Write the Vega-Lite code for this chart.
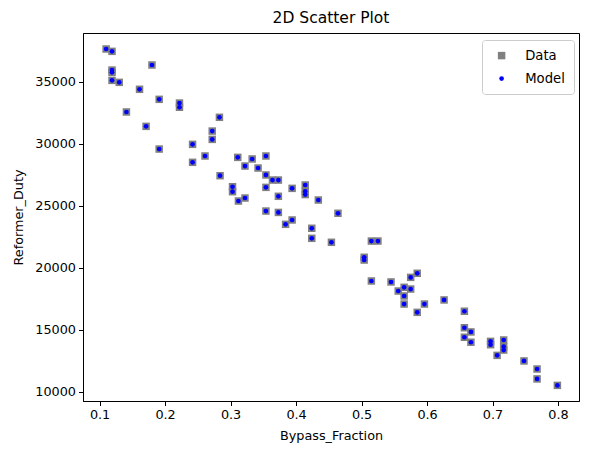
{
  "$schema": "https://vega.github.io/schema/vega-lite/v6.json",
  "autosize": "none",
  "width": 496,
  "height": 368,
  "padding": {"left": 83, "top": 33, "right": 10, "bottom": 54},
  "background": "white",
  "title": {"text": "2D Scatter Plot", "font": "DejaVu Sans", "fontSize": 15.5, "fontWeight": "normal", "color": "black", "offset": 7},
  "data": {
    "values": [
      {"Bypass_Fraction": 0.110, "Data": 37640, "Model": 37640},
      {"Bypass_Fraction": 0.119, "Data": 37450, "Model": 37450},
      {"Bypass_Fraction": 0.119, "Data": 35940, "Model": 35940},
      {"Bypass_Fraction": 0.119, "Data": 35760, "Model": 35760},
      {"Bypass_Fraction": 0.119, "Data": 35110, "Model": 35110},
      {"Bypass_Fraction": 0.130, "Data": 34950, "Model": 34950},
      {"Bypass_Fraction": 0.180, "Data": 36350, "Model": 36350},
      {"Bypass_Fraction": 0.161, "Data": 34390, "Model": 34390},
      {"Bypass_Fraction": 0.191, "Data": 33580, "Model": 33580},
      {"Bypass_Fraction": 0.222, "Data": 33280, "Model": 33280},
      {"Bypass_Fraction": 0.222, "Data": 32940, "Model": 32940},
      {"Bypass_Fraction": 0.141, "Data": 32560, "Model": 32560},
      {"Bypass_Fraction": 0.171, "Data": 31400, "Model": 31400},
      {"Bypass_Fraction": 0.283, "Data": 32130, "Model": 32130},
      {"Bypass_Fraction": 0.272, "Data": 31020, "Model": 31020},
      {"Bypass_Fraction": 0.272, "Data": 30350, "Model": 30350},
      {"Bypass_Fraction": 0.191, "Data": 29570, "Model": 29570},
      {"Bypass_Fraction": 0.242, "Data": 29950, "Model": 29950},
      {"Bypass_Fraction": 0.261, "Data": 29010, "Model": 29010},
      {"Bypass_Fraction": 0.242, "Data": 28500, "Model": 28500},
      {"Bypass_Fraction": 0.311, "Data": 28900, "Model": 28900},
      {"Bypass_Fraction": 0.322, "Data": 28200, "Model": 28200},
      {"Bypass_Fraction": 0.333, "Data": 28770, "Model": 28770},
      {"Bypass_Fraction": 0.354, "Data": 29010, "Model": 29010},
      {"Bypass_Fraction": 0.342, "Data": 28040, "Model": 28040},
      {"Bypass_Fraction": 0.354, "Data": 27480, "Model": 27480},
      {"Bypass_Fraction": 0.364, "Data": 27070, "Model": 27070},
      {"Bypass_Fraction": 0.373, "Data": 27070, "Model": 27070},
      {"Bypass_Fraction": 0.284, "Data": 27420, "Model": 27420},
      {"Bypass_Fraction": 0.303, "Data": 26530, "Model": 26530},
      {"Bypass_Fraction": 0.303, "Data": 26130, "Model": 26130},
      {"Bypass_Fraction": 0.354, "Data": 26480, "Model": 26480},
      {"Bypass_Fraction": 0.394, "Data": 26400, "Model": 26400},
      {"Bypass_Fraction": 0.414, "Data": 26670, "Model": 26670},
      {"Bypass_Fraction": 0.414, "Data": 26150, "Model": 26150},
      {"Bypass_Fraction": 0.414, "Data": 25900, "Model": 25900},
      {"Bypass_Fraction": 0.373, "Data": 25760, "Model": 25760},
      {"Bypass_Fraction": 0.434, "Data": 25460, "Model": 25460},
      {"Bypass_Fraction": 0.312, "Data": 25380, "Model": 25380},
      {"Bypass_Fraction": 0.322, "Data": 25620, "Model": 25620},
      {"Bypass_Fraction": 0.464, "Data": 24390, "Model": 24390},
      {"Bypass_Fraction": 0.354, "Data": 24570, "Model": 24570},
      {"Bypass_Fraction": 0.373, "Data": 24460, "Model": 24460},
      {"Bypass_Fraction": 0.394, "Data": 23850, "Model": 23850},
      {"Bypass_Fraction": 0.384, "Data": 23500, "Model": 23500},
      {"Bypass_Fraction": 0.424, "Data": 23180, "Model": 23180},
      {"Bypass_Fraction": 0.424, "Data": 22370, "Model": 22370},
      {"Bypass_Fraction": 0.454, "Data": 22050, "Model": 22050},
      {"Bypass_Fraction": 0.515, "Data": 22150, "Model": 22150},
      {"Bypass_Fraction": 0.525, "Data": 22150, "Model": 22150},
      {"Bypass_Fraction": 0.504, "Data": 20840, "Model": 20840},
      {"Bypass_Fraction": 0.504, "Data": 20620, "Model": 20620},
      {"Bypass_Fraction": 0.515, "Data": 18930, "Model": 18930},
      {"Bypass_Fraction": 0.545, "Data": 18850, "Model": 18850},
      {"Bypass_Fraction": 0.556, "Data": 18120, "Model": 18120},
      {"Bypass_Fraction": 0.565, "Data": 18420, "Model": 18420},
      {"Bypass_Fraction": 0.575, "Data": 18280, "Model": 18280},
      {"Bypass_Fraction": 0.575, "Data": 19220, "Model": 19220},
      {"Bypass_Fraction": 0.585, "Data": 19550, "Model": 19550},
      {"Bypass_Fraction": 0.565, "Data": 17720, "Model": 17720},
      {"Bypass_Fraction": 0.565, "Data": 17070, "Model": 17070},
      {"Bypass_Fraction": 0.596, "Data": 17070, "Model": 17070},
      {"Bypass_Fraction": 0.626, "Data": 17400, "Model": 17400},
      {"Bypass_Fraction": 0.585, "Data": 16400, "Model": 16400},
      {"Bypass_Fraction": 0.657, "Data": 16490, "Model": 16490},
      {"Bypass_Fraction": 0.657, "Data": 15160, "Model": 15160},
      {"Bypass_Fraction": 0.657, "Data": 14390, "Model": 14390},
      {"Bypass_Fraction": 0.667, "Data": 14820, "Model": 14820},
      {"Bypass_Fraction": 0.667, "Data": 13990, "Model": 13990},
      {"Bypass_Fraction": 0.697, "Data": 14060, "Model": 14060},
      {"Bypass_Fraction": 0.697, "Data": 13790, "Model": 13790},
      {"Bypass_Fraction": 0.717, "Data": 14170, "Model": 14170},
      {"Bypass_Fraction": 0.717, "Data": 13630, "Model": 13630},
      {"Bypass_Fraction": 0.717, "Data": 13360, "Model": 13360},
      {"Bypass_Fraction": 0.707, "Data": 12930, "Model": 12930},
      {"Bypass_Fraction": 0.748, "Data": 12480, "Model": 12480},
      {"Bypass_Fraction": 0.768, "Data": 11830, "Model": 11830},
      {"Bypass_Fraction": 0.768, "Data": 11030, "Model": 11030},
      {"Bypass_Fraction": 0.799, "Data": 10510, "Model": 10510}
    ]
  },
  "transform": [{"fold": ["Data", "Model"], "as": ["series", "Reformer_Duty"]}],
  "encoding": {
    "x": {"field": "Bypass_Fraction", "type": "quantitative",
      "scale": {"domain": [0.0747, 0.832], "nice": false, "zero": false},
      "axis": {"values": [0.1, 0.2, 0.3, 0.4, 0.5, 0.6, 0.7, 0.8], "format": ".1f", "title": "Bypass_Fraction", "titlePadding": 8}},
    "y": {"field": "Reformer_Duty", "type": "quantitative",
      "scale": {"domain": [9250, 38930], "nice": false, "zero": false},
      "axis": {"values": [10000, 15000, 20000, 25000, 30000, 35000], "format": "d", "title": "Reformer_Duty", "titlePadding": 9}},
    "color": {"field": "series", "type": "nominal", "scale": {"domain": ["Data", "Model"], "range": ["#808080", "#0000ff"]},
      "legend": {"title": null, "orient": "none", "legendX": 399, "legendY": 7}},
    "shape": {"field": "series", "type": "nominal", "scale": {"domain": ["Data", "Model"], "range": ["square", "circle"]}},
    "size": {"field": "series", "type": "nominal", "scale": {"domain": ["Data", "Model"], "range": [56, 22]}}
  },
  "layer": [
    {"transform": [{"filter": "datum.series === 'Data'"}], "mark": {"type": "point", "filled": true, "opacity": 1}},
    {"transform": [{"filter": "datum.series === 'Model'"}], "mark": {"type": "point", "filled": true, "opacity": 1}}
  ],
  "config": {
    "view": {"stroke": "black", "strokeWidth": 1},
    "axis": {"grid": false, "domainColor": "black", "tickColor": "black", "tickSize": 4.5, "labelPadding": 3, "labelFont": "DejaVu Sans", "labelFontSize": 12.8, "labelColor": "black", "titleFont": "DejaVu Sans", "titleFontSize": 12.8, "titleFontWeight": "normal", "titleColor": "black"},
    "legend": {"strokeColor": "#cccccc", "fillColor": "white", "cornerRadius": 3, "padding": 9, "labelFont": "DejaVu Sans", "labelFontSize": 13.2, "labelColor": "black", "labelOffset": 17, "symbolOffset": 4, "rowPadding": 9, "symbolStrokeWidth": 0}
  }
}
